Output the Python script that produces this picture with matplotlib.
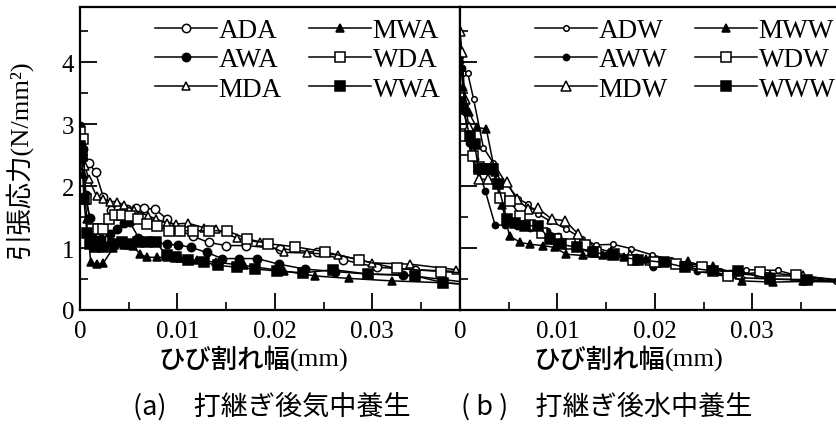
import numpy as np
import matplotlib
matplotlib.use("Agg")
import matplotlib.pyplot as plt
from matplotlib.ticker import MultipleLocator, FuncFormatter

plt.rcParams['font.family'] = ['Liberation Serif', 'Noto Sans CJK JP']

# (a) 打継ぎ後気中養生  -- ひび割れ幅 (mm) / 引張応力 (N/mm2)
ada_x = [0.0001, 0.0009, 0.0016, 0.0024, 0.0032, 0.0039, 0.0048, 0.0057, 0.0066, 0.0077, 0.0089, 0.0103,
         0.0116, 0.0132, 0.0150, 0.0170, 0.0205, 0.0243, 0.0270, 0.0305, 0.0344, 0.0405]
ada_y = [2.70, 2.38, 2.22, 1.82, 1.62, 1.63, 1.63, 1.64, 1.64, 1.63, 1.47, 1.28,
         1.19, 1.09, 1.04, 1.04, 0.99, 0.93, 0.81, 0.69, 0.65, 0.61]

awa_x = [0.0000, 0.0003, 0.0006, 0.0010, 0.0014, 0.0022, 0.0031, 0.0038, 0.0045, 0.0051, 0.0060, 0.0070,
         0.0089, 0.0101, 0.0114, 0.0130, 0.0146, 0.0163, 0.0182, 0.0204, 0.0231, 0.0262, 0.0295, 0.0332, 0.0405]
awa_y = [2.97, 2.60, 1.85, 1.49, 1.15, 1.15, 1.23, 1.31, 1.40, 1.42, 1.17, 1.12,
         1.06, 1.05, 1.01, 0.93, 0.83, 0.83, 0.83, 0.74, 0.66, 0.62, 0.58, 0.57, 0.43]

mda_x = [0.0002, 0.0005, 0.0009, 0.0017, 0.0024, 0.0031, 0.0038, 0.0045, 0.0055, 0.0070, 0.0078, 0.0089,
         0.0099, 0.0111, 0.0127, 0.0140, 0.0161, 0.0185, 0.0209, 0.0233, 0.0265, 0.0300, 0.0339, 0.0386, 0.0405]
mda_y = [2.65, 2.33, 2.11, 1.84, 1.79, 1.75, 1.75, 1.69, 1.62, 1.52, 1.47, 1.40,
         1.39, 1.40, 1.33, 1.30, 1.16, 1.09, 0.93, 0.92, 0.89, 0.76, 0.74, 0.65, 0.63]

mwa_x = [0.0000, 0.0003, 0.0007, 0.0011, 0.0017, 0.0024, 0.0034, 0.0045, 0.0054, 0.0062, 0.0069, 0.0079,
         0.0089, 0.0103, 0.0120, 0.0140, 0.0168, 0.0209, 0.0241, 0.0276, 0.0320, 0.0372, 0.0405]
mwa_y = [2.70, 2.20, 1.47, 0.77, 0.74, 0.76, 1.00, 1.05, 1.03, 0.90, 0.85, 0.85,
         0.85, 0.84, 0.80, 0.77, 0.72, 0.63, 0.55, 0.51, 0.47, 0.44, 0.41]

wda_x = [0.0000, 0.0003, 0.0006, 0.0012, 0.0018, 0.0024, 0.0030, 0.0036, 0.0043, 0.0051, 0.0060, 0.0069,
         0.0079, 0.0091, 0.0103, 0.0116, 0.0132, 0.0151, 0.0171, 0.0193, 0.0221, 0.0251, 0.0286, 0.0325,
         0.0371, 0.0405]
wda_y = [2.87, 2.76, 1.79, 1.31, 1.31, 1.31, 1.47, 1.53, 1.53, 1.52, 1.47, 1.39,
         1.35, 1.28, 1.28, 1.28, 1.28, 1.28, 1.15, 1.07, 1.02, 0.94, 0.81, 0.67, 0.62, 0.59]

wwa_x = [0.0000, 0.0002, 0.0004, 0.0007, 0.0010, 0.0015, 0.0024, 0.0034, 0.0043, 0.0051, 0.0060, 0.0069,
         0.0078, 0.0089, 0.0099, 0.0111, 0.0127, 0.0142, 0.0161, 0.0180, 0.0202, 0.0229, 0.0260, 0.0296,
         0.0344, 0.0373, 0.0405]
wwa_y = [2.65, 2.49, 1.79, 1.25, 1.06, 1.01, 1.01, 1.06, 1.09, 1.06, 1.10, 1.09,
         1.09, 0.88, 0.85, 0.80, 0.77, 0.72, 0.69, 0.66, 0.63, 0.60, 0.65, 0.58, 0.55, 0.44, 0.40]

# (b) 打継ぎ後水中養生
adw_x = [0.0000, 0.0003, 0.0008, 0.0014, 0.0024, 0.0034, 0.0047, 0.0060, 0.0070, 0.0080, 0.0092, 0.0109,
         0.0125, 0.0140, 0.0157, 0.0176, 0.0197, 0.0217, 0.0245, 0.0267, 0.0294, 0.0326, 0.0352, 0.0386, 0.0405]
adw_y = [3.89, 3.82, 3.82, 3.40, 2.62, 2.38, 2.05, 1.79, 1.71, 1.55, 1.44, 1.31,
         1.15, 1.05, 1.06, 0.99, 0.89, 0.81, 0.72, 0.63, 0.65, 0.64, 0.53, 0.46, 0.44]

aww_x = [0.0000, 0.0002, 0.0005, 0.0009, 0.0015, 0.0026, 0.0036, 0.0046, 0.0058, 0.0072, 0.0089, 0.0101,
         0.0116, 0.0134, 0.0152, 0.0181, 0.0198, 0.0220, 0.0243, 0.0277, 0.0318, 0.0359, 0.0405]
aww_y = [4.10, 3.90, 3.20, 2.70, 2.44, 1.92, 1.37, 1.37, 1.36, 1.33, 1.28, 1.20,
         1.04, 0.98, 0.90, 0.85, 0.69, 0.72, 0.63, 0.53, 0.50, 0.48, 0.44]

mdw_x = [0.0000, 0.0002, 0.0005, 0.0009, 0.0013, 0.0019, 0.0029, 0.0038, 0.0048, 0.0058, 0.0070, 0.0080,
         0.0094, 0.0108, 0.0121, 0.0133, 0.0155, 0.0174, 0.0195, 0.0234, 0.0260, 0.0287, 0.0318, 0.0352, 0.0405]
mdw_y = [4.50, 4.16, 3.40, 2.95, 2.75, 2.11, 2.11, 2.11, 2.07, 1.79, 1.63, 1.64,
         1.47, 1.44, 1.23, 1.04, 0.93, 0.88, 0.80, 0.77, 0.69, 0.58, 0.55, 0.55, 0.44]

mww_x = [0.0000, 0.0003, 0.0009, 0.0017, 0.0027, 0.0036, 0.0043, 0.0051, 0.0062, 0.0072, 0.0085, 0.0097,
         0.0109, 0.0126, 0.0147, 0.0168, 0.0191, 0.0234, 0.0260, 0.0289, 0.0321, 0.0352, 0.0405]
mww_y = [4.05, 3.60, 3.19, 2.95, 2.92, 2.22, 1.70, 1.19, 1.09, 1.06, 1.04, 1.01,
         0.90, 0.88, 0.88, 0.85, 0.82, 0.77, 0.69, 0.47, 0.45, 0.46, 0.45]

wdw_x = [0.0000, 0.0005, 0.0013, 0.0019, 0.0026, 0.0034, 0.0041, 0.0051, 0.0062, 0.0072, 0.0084, 0.0099,
         0.0113, 0.0128, 0.0140, 0.0158, 0.0178, 0.0200, 0.0222, 0.0248, 0.0275, 0.0308, 0.0345, 0.0405]
wdw_y = [2.84, 2.81, 2.49, 2.30, 2.27, 2.27, 1.80, 1.76, 1.52, 1.37, 1.25, 1.15,
         1.06, 1.05, 0.93, 0.90, 0.81, 0.77, 0.74, 0.69, 0.55, 0.61, 0.56, 0.46]

www_x = [0.0000, 0.0003, 0.0010, 0.0015, 0.0019, 0.0026, 0.0033, 0.0039, 0.0048, 0.0056, 0.0067, 0.0080,
         0.0092, 0.0104, 0.0120, 0.0137, 0.0157, 0.0183, 0.0209, 0.0231, 0.0260, 0.0285, 0.0318, 0.0356, 0.0405]
www_y = [3.35, 3.24, 2.81, 2.68, 2.27, 2.27, 2.27, 2.03, 1.47, 1.40, 1.36, 1.36,
         1.15, 1.06, 1.01, 0.93, 0.88, 0.81, 0.77, 0.69, 0.63, 0.63, 0.50, 0.49, 0.44]

fig = plt.figure(figsize=(8.36, 4.27), dpi=100)
W, H = 836.0, 427.0
ax1 = fig.add_axes([80 / W, 116 / H, 380 / W, 303 / H])
ax2 = fig.add_axes([460 / W, 116 / H, 380 / W, 303 / H])

def draw(ax, x, y, marker, filled, label, ms):
    fc = 'black' if filled else 'white'
    ax.plot(x, y, color='black', lw=1.1, marker=marker, ms=ms, mfc=fc, mec='black', mew=1.1,
            label=label)

draw(ax1, ada_x, ada_y, 'o', False, 'ADA', 6)
draw(ax1, awa_x, awa_y, 'o', True, 'AWA', 6)
draw(ax1, mda_x, mda_y, '^', False, 'MDA', 6)
draw(ax1, mwa_x, mwa_y, '^', True, 'MWA', 6)
draw(ax1, wda_x, wda_y, 's', False, 'WDA', 6.5)
draw(ax1, wwa_x, wwa_y, 's', True, 'WWA', 6.5)

draw(ax2, adw_x, adw_y, 'o', False, 'ADW', 4)
draw(ax2, aww_x, aww_y, 'o', True, 'AWW', 4.5)
draw(ax2, mdw_x, mdw_y, '^', False, 'MDW', 6.5)
draw(ax2, mww_x, mww_y, '^', True, 'MWW', 6)
draw(ax2, wdw_x, wdw_y, 's', False, 'WDW', 6.5)
draw(ax2, www_x, www_y, 's', True, 'WWW', 6.5)

fmt = FuncFormatter(lambda v, p: '0' if abs(v) < 1e-9 else f'{v:.2f}')
for ax in (ax1, ax2):
    ax.set_xlim(0, 0.039)
    ax.set_ylim(0, 4.89)
    ax.xaxis.set_major_locator(MultipleLocator(0.01))
    ax.xaxis.set_minor_locator(MultipleLocator(0.005))
    ax.yaxis.set_major_locator(MultipleLocator(1))
    ax.yaxis.set_minor_locator(MultipleLocator(0.5))
    ax.xaxis.set_major_formatter(fmt)
    ax.tick_params(which='major', direction='in', length=12, width=1.3, labelsize=18,
                   top=False, right=False, pad=7)
    ax.tick_params(which='minor', direction='in', length=6, width=1.2, top=False, right=False)
    for s in ax.spines.values():
        s.set_linewidth(1.6)

ax2.tick_params(labelleft=False)
ax1.tick_params(axis='y', pad=4)

leg_kw = dict(ncol=2, frameon=False, fontsize=19.5, handlelength=2.3, handletextpad=0.05,
              labelspacing=0.16, columnspacing=1.0, borderpad=0, borderaxespad=0,
              loc='upper left', bbox_transform=fig.transFigure)
ax1.legend(bbox_to_anchor=(155 / W, 1 - 19 / H), **leg_kw)
ax2.legend(bbox_to_anchor=(535 / W, 1 - 19 / H), **leg_kw)

fig.text(18 / W, 1 - 160 / H, '引張応力(N/mm²)', rotation=90, ha='center', va='center', fontsize=19)

# x labels: gothic part a little heavier than the (mm) part
for xc in (290, 665):
    fig.text(xc / W, 1 - 360 / H, 'ひび割れ幅', ha='right', va='center', fontsize=19,
             fontweight='medium', family=['Noto Sans CJK JP'])
    fig.text(xc / W, 1 - 360 / H, '(mm)', ha='left', va='center', fontsize=19)

fig.text(272 / W, 1 - 407 / H, '(a)　打継ぎ後気中養生', ha='center', va='center', fontsize=19.5,
         family=['Noto Sans CJK JP'])
fig.text(607 / W, 1 - 407 / H, '( b )　打継ぎ後水中養生', ha='center', va='center', fontsize=19.5,
         family=['Noto Sans CJK JP'])

fig.savefig('out.png', dpi=100)
